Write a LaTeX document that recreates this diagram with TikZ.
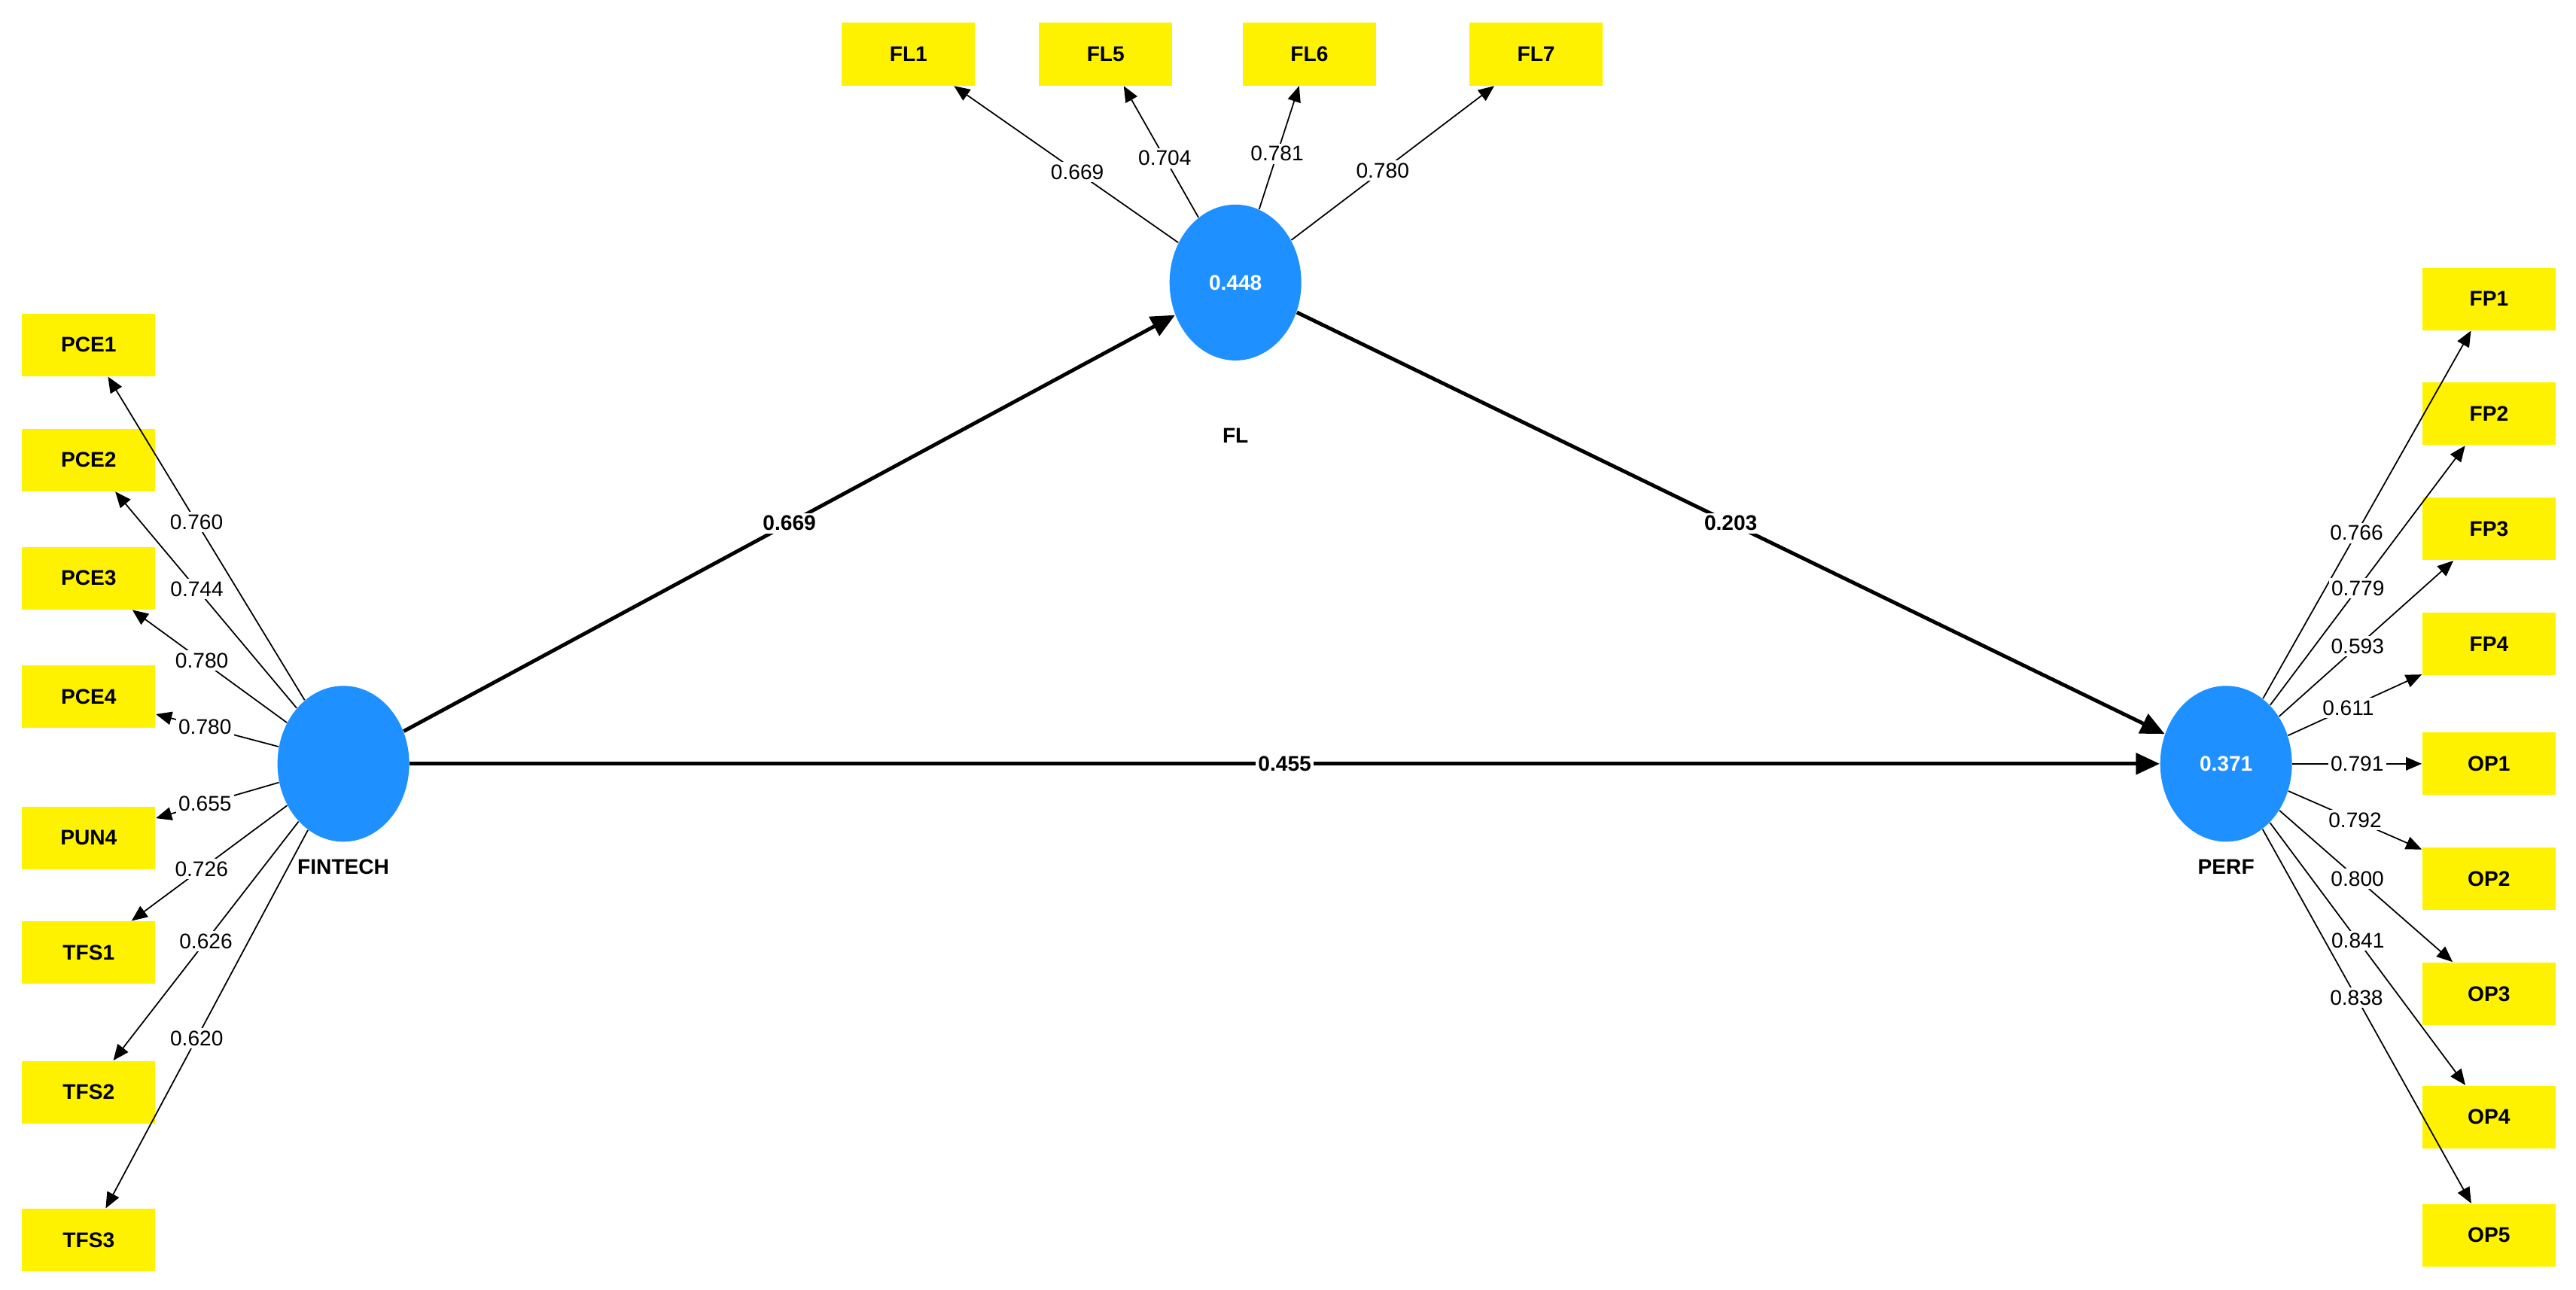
\documentclass[tikz,border=0pt]{standalone}
\usepackage{fontspec}
\setmainfont{Liberation Sans}
\usetikzlibrary{shapes.geometric,arrows.meta}
\begin{document}
\begin{tikzpicture}[x=0.02182cm,y=-0.02182cm,
 ind/.style={fill=yellow,minimum width=1.77cm,minimum height=0.83cm,inner sep=0,font=\footnotesize\bfseries},
 lat/.style={ellipse,fill={rgb,255:red,30;green,144;blue,255},minimum width=1.75cm,minimum height=2.07cm,inner sep=0,text=white,font=\footnotesize\bfseries},
 ld/.style={-{Triangle[length=6pt,width=5pt]},line width=0.5pt},
 pth/.style={-{Triangle[length=9pt,width=8pt]},line width=1.4pt},
 lb/.style={fill=white,inner sep=1pt,font=\footnotesize},
 pl/.style={fill=white,inner sep=1pt,font=\footnotesize\bfseries},
 nm/.style={font=\footnotesize\bfseries}]
\useasboundingbox (0,0) rectangle (1568,785);
\node[lat] (FT) at (209,465) {};
\node[lat] (FL) at (752,172) {0.448};
\node[lat] (PF) at (1355,465) {0.371};
\node[nm] (nFT) at (209,528) {FINTECH};
\node[nm] (nFL) at (752,265) {FL};
\node[nm] (nPF) at (1355,528) {PERF};
% left
\foreach \n/\y in {PCE1/210,PCE2/280,PCE3/352,PCE4/424,PUN4/510,TFS1/580,TFS2/665,TFS3/755}{\node[ind] (\n) at (54,\y) {\n};}
\foreach \n/\y in {FL1/33,FL5/673,FL6/797,FL7/935}{}
\node[ind] (FL1) at (553,33) {FL1};
\node[ind] (FL5) at (673,33) {FL5};
\node[ind] (FL6) at (797,33) {FL6};
\node[ind] (FL7) at (935,33) {FL7};
\foreach \n/\y in {FP1/182,FP2/252,FP3/322,FP4/392,OP1/465,OP2/535,OP3/605,OP4/680,OP5/752}{\node[ind] (\n) at (1515,\y) {\n};}
% left loadings
\foreach \n/\v/\p in {PCE1/0.760/0.55,PCE2/0.744/0.55,PCE3/0.780/0.55,PCE4/0.780/0.6,PUN4/0.655/0.6,TFS1/0.726/0.55,TFS2/0.626/0.5,TFS3/0.620/0.55}{
 \draw[ld] (FT) -- node[lb,pos=\p]{\v} (\n);}
\foreach \n/\v/\p in {FL1/0.669/0.45,FL5/0.704/0.45,FL6/0.781/0.45,FL7/0.780/0.45}{
 \draw[ld] (FL) -- node[lb,pos=\p]{\v} (\n);}
\foreach \n/\v/\p in {FP1/0.766/0.45,FP2/0.779/0.45,FP3/0.593/0.45,FP4/0.611/0.45,OP1/0.791/0.5,OP2/0.792/0.5,OP3/0.800/0.45,OP4/0.841/0.45,OP5/0.838/0.45}{
 \draw[ld] (PF) -- node[lb,pos=\p]{\v} (\n);}
\draw[pth] (FT) -- node[pl]{0.669} (FL);
\draw[pth] (FL) -- node[pl]{0.203} (PF);
\draw[pth] (FT) -- node[pl]{0.455} (PF);
\end{tikzpicture}
\end{document}
